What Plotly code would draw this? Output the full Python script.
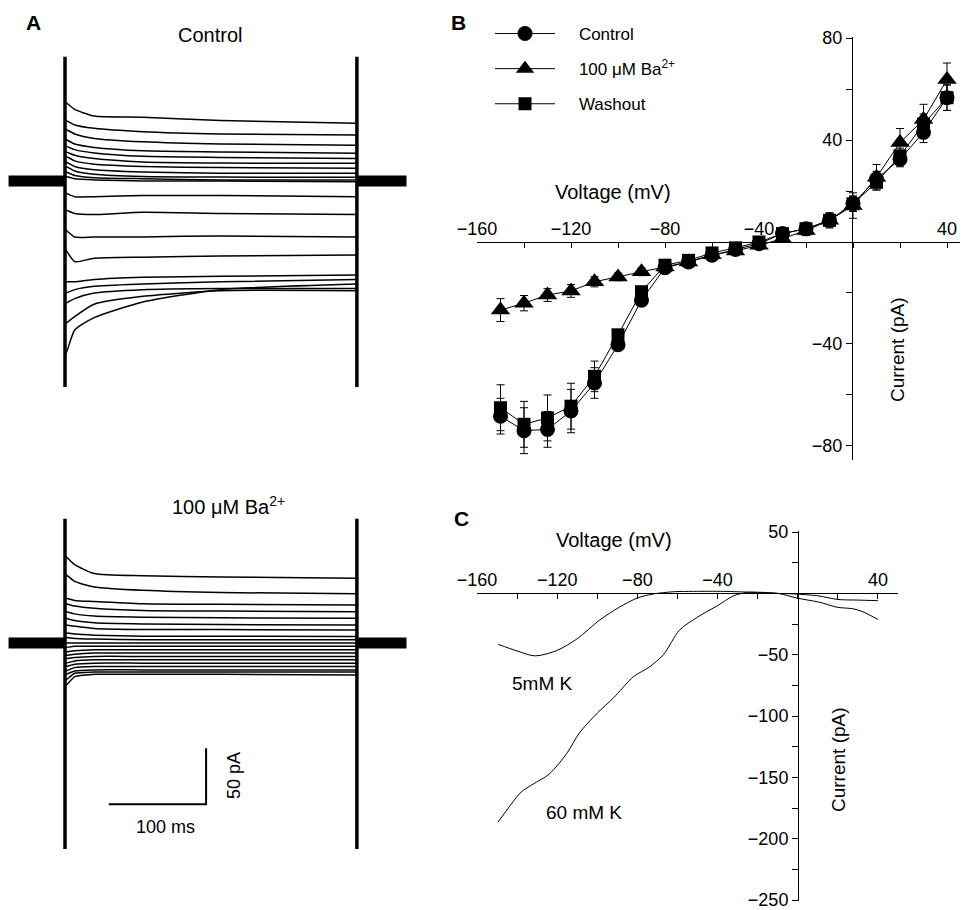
import plotly.graph_objects as go

W, H = 961, 910
FONT = "Liberation Sans, Arial, sans-serif"

# ---------------- Panel A data (pA relative to holding, ms) ----------------
step_voltages = [-150, -140, -130, -120, -110, -100, -90, -80, -70, -60,
                 -50, -40, -30, -20, -10, 0, 10, 20, 30, 40]
trace_times = [1, 10, 30, 80, 160, 300]
control_traces = [
    [-154, -133, -122, -108, -97, -92],
    [-127, -121, -110, -103, -98, -98],
    [-109, -105, -100, -97, -96, -96],
    [-100, -97, -94, -92, -90, -88],
    [-90, -90, -88, -86, -85, -84],
    [-62, -72, -69, -68, -67, -66],
    [-44, -50, -50, -50, -49, -50],
    [-26, -29, -30, -28, -29, -30],
    [-11, -14, -14, -13, -13, -14],
    [4, 2, 1, 0, 0, -0.6],
    [8, 5, 3, 2, 1, 0.8],
    [13, 9, 6, 4, 3.5, 3.3],
    [17, 13, 10, 8, 7, 6.9],
    [22, 18, 15, 13, 12, 11.3],
    [26, 23, 20, 17, 16, 15.8],
    [31, 28, 25, 22, 21, 20],
    [37, 33, 30, 27, 26, 24.7],
    [46, 42, 38, 35, 33, 32],
    [54, 50, 47, 44, 42, 41],
    [70, 64, 58, 57, 54, 51.5],
]
barium_traces = [
    [-38, -30, -28, -28, -28, -28.6],
    [-33, -27, -26, -26, -26, -26],
    [-28, -25, -24, -24, -24, -24],
    [-25, -22, -21, -21, -21, -21],
    [-21, -19, -18, -18, -18, -18],
    [-18, -16, -15, -15, -15, -15],
    [-14, -13, -12, -12, -12, -12],
    [-11, -10, -9, -9, -9, -9],
    [-8, -7, -6, -6, -6, -6],
    [-4, -3, -3, -3, -3, -3],
    [0, 0, 0, 0, 0, 0],
    [5, 4, 3.5, 3, 3, 3],
    [9, 8, 7, 6, 6, 5.7],
    [16, 15, 13, 12, 12, 11.6],
    [22, 20, 18, 17, 16.5, 16],
    [28, 26, 24, 23, 22.5, 22],
    [35, 33, 31, 29, 28.5, 28],
    [40, 38, 37, 35, 34.5, 34],
    [61, 55, 50, 47, 45, 44],
    [77, 70, 62, 60, 59, 57.8],
]
step_start_ms, step_end_ms = 0, 300
hold_pre_ms, hold_post_ms = 58, 51
artifact_top_pA, artifact_bottom_pA = 111, -184
scalebar_ms, scalebar_pA = 100, 50
scalebar_origin = (145, -144)  # corner (ms, pA)

# ---------------- Panel B data ----------------
iv_voltage = [-150, -140, -130, -120, -110, -100, -90, -80, -70, -60,
              -50, -40, -30, -20, -10, 0, 10, 20, 30, 40]
iv_control = [-68.3, -74, -73.5, -66.3, -55.3, -40.3, -22.8, -10.1, -7.8, -5.2,
              -2.9, -0.7, 3.3, 5.2, 8.5, 15, 24.7, 32.5, 43, 56.6]
iv_control_err = [7, 9, 7, 8.5, 6, 2, 2, 2, 1.5, 1.5,
                  1.5, 1.5, 1.5, 2, 2.5, 3, 3, 3, 4, 5]
iv_barium = [-26.7, -24, -20.8, -19.2, -15.6, -13.7, -11.7, -9.8, -7.8, -5,
             -3.5, -1.3, 1.3, 4.5, 8.5, 14.3, 25.4, 39, 48, 63.7]
iv_barium_err = [4.5, 3, 2.5, 2.5, 2, 1.5, 1.5, 1.5, 1.5, 1.5,
                 1.5, 1.5, 1.5, 2, 3, 5, 5, 5.5, 6, 6.5]
iv_washout = [-65, -71.5, -69, -64.4, -52.7, -36.4, -19.5, -9.1, -7.2, -4.3,
              -2.3, 0, 3.3, 5.2, 8.5, 15, 23.4, 33.8, 46.2, 56.6]
iv_washout_err = [9, 9, 9, 9, 6, 2, 2, 2, 1.5, 1.5,
                  1.5, 1.5, 1.5, 2, 2.5, 3, 3, 3, 4, 5]

# ---------------- Panel C data ----------------
ramp5_v = [-149.5, -140, -131, -120, -110, -99, -89, -80, -72, -62, -52, -37,
           -22, -12, -2, 10, 20, 30, 40]
ramp5_i = [-41.5, -47, -51, -46.5, -37, -22, -11.3, -3.8, -0.5, 1.3, 1.6, 1.6,
           0.8, 0, -0.5, -2, -5, -5.5, -6]
ramp60_v = [-149.5, -143, -138, -132, -124, -115, -109, -100, -92, -82, -74,
            -67, -59, -50, -40, -32, -25, -18, -10, 0, 11, 19.5, 28, 33, 40]
ramp60_i = [-186.5, -172, -162, -155.5, -147.4, -130, -114, -97.6, -85.4, -68,
            -60, -50, -30, -19.4, -10, -2, 0.8, 0.8, 0, -4, -7.3, -11.3, -12.7,
            -15.4, -21.3]

# ---------------- Axis tick values ----------------
b_x_major = [-160, -120, -80, -40, 40]
b_x_minor = [-140, -100, -60, -20, 0, 20]
b_y_major = [-80, -40, 40, 80]
b_y_minor = [-60, -20, 20, 60]
c_x_major = [-160, -120, -80, -40, 40]
c_x_minor = [-140, -100, -60, -20, 0, 20]
c_y_major = [-250, -200, -150, -100, -50, 50]
c_y_minor = [-225, -175, -125, -75, -25, 25]

fig = go.Figure()


def px_x(p):
    return p / W


def px_y(p):
    return 1 - p / H


# ---------- Panel A traces ----------
def add_sweeps(traces, xa, ya):
    for vals in traces:
        fig.add_trace(go.Scatter(
            x=[step_start_ms] + trace_times, y=[vals[0]] + vals,
            mode="lines", line=dict(color="black", width=1.5, shape="spline", smoothing=0.6),
            xaxis=xa, yaxis=ya, showlegend=False, hoverinfo="skip"))
    for xs in ([step_start_ms - hold_pre_ms, step_start_ms],
               [step_end_ms, step_end_ms + hold_post_ms]):
        fig.add_trace(go.Scatter(x=xs, y=[0, 0], mode="lines",
                                 line=dict(color="black", width=11),
                                 xaxis=xa, yaxis=ya, showlegend=False, hoverinfo="skip"))
    for t in (step_start_ms, step_end_ms):
        fig.add_trace(go.Scatter(x=[t, t], y=[artifact_top_pA, artifact_bottom_pA],
                                 mode="lines", line=dict(color="black", width=3.5),
                                 xaxis=xa, yaxis=ya, showlegend=False, hoverinfo="skip"))


add_sweeps(control_traces, "x", "y")
add_sweeps(barium_traces, "x2", "y2")

sx, sy = scalebar_origin
fig.add_trace(go.Scatter(x=[sx - scalebar_ms, sx, sx], y=[sy, sy, sy + scalebar_pA],
                         mode="lines", line=dict(color="black", width=2),
                         xaxis="x2", yaxis="y2", showlegend=False, hoverinfo="skip"))

# ---------- Panel B ----------
pad = "\u00a0\u00a0\u00a0\u00a0"
series_b = [
    (pad + "Control", iv_control, iv_control_err, "circle", 15),
    (pad + "100 \u03bcM Ba<sup>2+</sup>", iv_barium, iv_barium_err, "triangle-up", 17),
    (pad + "Washout", iv_washout, iv_washout_err, "square", 13),
]
for i, (name, vals, err, sym, size) in enumerate(series_b):
    fig.add_trace(go.Scatter(
        x=iv_voltage, y=vals, name=name, mode="lines+markers",
        line=dict(color="black", width=1),
        marker=dict(symbol=sym, size=size, color="black"),
        error_y=dict(type="data", array=err, color="black", thickness=1, width=4),
        xaxis="x3", yaxis="y3", legendgroup=f"g{i}", hoverinfo="skip"))

# ---------- Panel C ----------
for v, i_ in ((ramp5_v, ramp5_i), (ramp60_v, ramp60_i)):
    fig.add_trace(go.Scatter(x=v, y=i_, mode="lines",
                             line=dict(color="black", width=1, shape="spline", smoothing=0.8),
                             xaxis="x4", yaxis="y4", showlegend=False, hoverinfo="skip"))

# ---------- Axes ----------
hidden = dict(visible=False, showgrid=False, zeroline=False, automargin=False)
t0_px, ms_px = 65, 0.973
a_range = [(0 - t0_px) / ms_px, (420 - t0_px) / ms_px]
pa_px = 1.12
base_top, base_bot = 181, 643

fig.update_layout(
    xaxis=dict(domain=[0, px_x(420)], range=a_range, anchor="y", **hidden),
    yaxis=dict(domain=[px_y(450), 1], range=[-(450 - base_top) / pa_px, base_top / pa_px],
               anchor="x", **hidden),
    xaxis2=dict(domain=[0, px_x(420)], range=a_range, anchor="y2", **hidden),
    yaxis2=dict(domain=[0, px_y(450)],
                range=[-(910 - base_bot) / pa_px, (base_bot - 450) / pa_px],
                anchor="x2", **hidden),
)

tickfont = dict(family=FONT, size=18, color="black")
common = dict(tickcolor="black", showline=True, linecolor="black", linewidth=1,
              showgrid=False, zeroline=False, tickfont=tickfont, automargin=False,
              tickmode="array", ticklabeloverflow="allow")


def minor(vals, side_ticks, length):
    return dict(tickmode="array", tickvals=vals, ticks=side_ticks, ticklen=length,
                tickcolor="black", showgrid=False)


c_top_px, c_bot_px = 531, 901
c_px = (c_bot_px - c_top_px - 2) / 300.0
fig.update_layout(
    xaxis3=dict(domain=[px_x(477), px_x(960)], range=[-160, -160 + (960 - 477) / 2.35],
                anchor="free", position=px_y(242), side="top",
                tickvals=b_x_major, ticks="inside", ticklen=5,
                minor=minor(b_x_minor, "inside", 5), **common),
    yaxis3=dict(domain=[px_y(460), px_y(37)], range=[-85.5, 80.4],
                anchor="free", position=px_x(852), side="left",
                tickvals=b_y_major, ticks="outside", ticklen=6,
                minor=minor(b_y_minor, "outside", 6), **common),
    xaxis4=dict(domain=[px_x(477), px_x(898)], range=[-160, 50],
                anchor="free", position=px_y(593), side="top",
                tickvals=c_x_major, ticks="inside", ticklen=5,
                minor=minor(c_x_minor, "inside", 5), **common),
    yaxis4=dict(domain=[px_y(c_bot_px), px_y(c_top_px)],
                range=[-250 - 1 / c_px, 50 + 1 / c_px],
                anchor="free", position=px_x(798), side="left",
                tickvals=c_y_major, ticks="outside", ticklen=6,
                minor=minor(c_y_minor, "outside", 6), **common),
)


def ann(text, x, y, size, bold=False, angle=0, xanchor="center"):
    fig.add_annotation(text=f"<b>{text}</b>" if bold else text,
                       x=px_x(x), y=px_y(y), xref="paper", yref="paper",
                       xanchor=xanchor, yanchor="middle", showarrow=False,
                       textangle=angle, font=dict(family=FONT, size=size, color="black"))


ann("A", 33, 22, 21, bold=True)
ann("B", 458, 22, 21, bold=True)
ann("C", 461, 518, 21, bold=True)
ann("Control", 210, 35, 20)
ann("100 \u03bcM Ba<sup>2+</sup>", 228, 505, 20)
ann("100 ms", 165, 827, 18)
ann("50 pA", 234, 776, 18, angle=-90)
ann("Voltage (mV)", 613, 192, 20)
ann("Current (pA)", 898, 350, 19, angle=-90)
ann("Voltage (mV)", 614, 540, 20)
ann("Current (pA)", 838, 760, 19, angle=-90)
ann("5mM K", 542, 683, 19)
ann("60 mM K", 584, 812, 19)

fig.update_layout(
    template="none",
    width=W, height=H, margin=dict(l=0, r=0, t=0, b=0, pad=0, autoexpand=False),
    paper_bgcolor="white", plot_bgcolor="white",
    font=dict(family=FONT, color="black"),
    legend=dict(x=px_x(490), y=px_y(16), xanchor="left", yanchor="top",
                font=dict(family=FONT, size=17, color="black"),
                bgcolor="rgba(0,0,0,0)", traceorder="grouped", tracegroupgap=10,
                itemwidth=60),
    showlegend=True,
)

fig.write_html("out.html", config={"displayModeBar": False},
               post_script="document.body.style.margin='0';document.body.style.padding='0';")
